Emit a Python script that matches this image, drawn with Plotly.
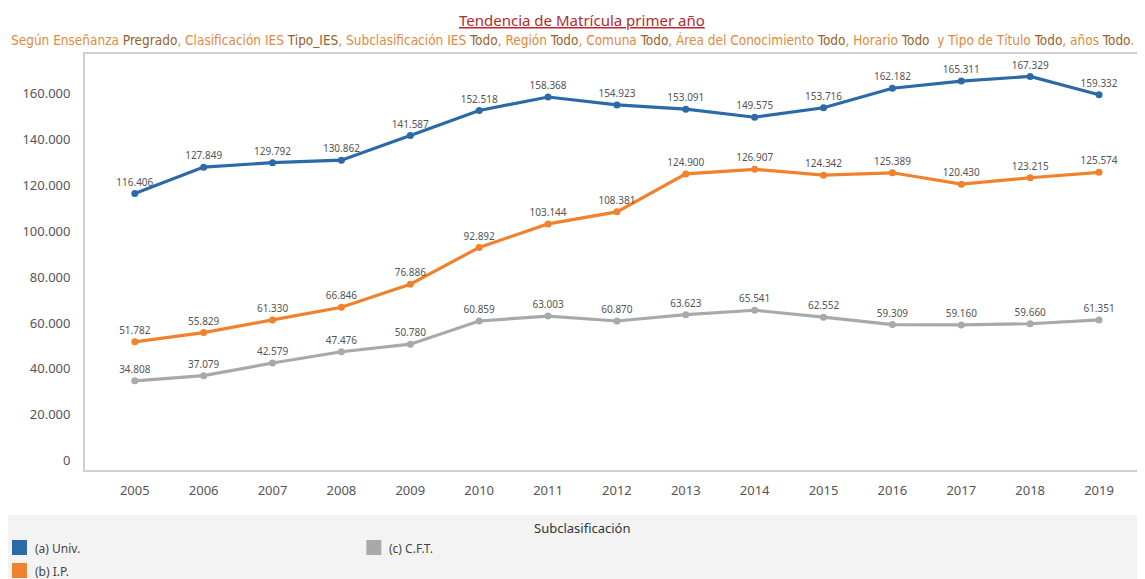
import plotly.graph_objects as go

years = [2005, 2006, 2007, 2008, 2009, 2010, 2011, 2012, 2013, 2014, 2015, 2016, 2017, 2018, 2019]
univ = [116406, 127849, 129792, 130862, 141587, 152518, 158368, 154923, 153091, 149575, 153716, 162182, 165311, 167329, 159332]
ip = [51782, 55829, 61330, 66846, 76886, 92892, 103144, 108381, 124900, 126907, 124342, 125389, 120430, 123215, 125574]
cft = [34808, 37079, 42579, 47476, 50780, 60859, 63003, 60870, 63623, 65541, 62552, 59309, 59160, 59660, 61351]
series_names = ["(a) Univ.", "(b) I.P.", "(c) C.F.T."]
series_colors = ["#2b6aa6", "#f0822d", "#a9a9a9"]
y_ticks = [0, 20000, 40000, 60000, 80000, 100000, 120000, 140000, 160000]

# page has an 8px body margin; figure sized to fill the rest of the window
OFF = 8
W, H = 1145 - OFF, 579 - OFF
FONT = "Noto Sans"

fig = go.Figure()
for name, vals, col in zip(series_names, [univ, ip, cft], series_colors):
    fig.add_trace(go.Scatter(
        x=years, y=vals, name=name, mode="lines+markers+text",
        line=dict(color=col, width=3.2),
        marker=dict(color=col, size=7),
        texttemplate="%{y:,}", textposition="top center",
        textfont=dict(size=10, color="#555555", family=FONT),
        showlegend=False, cliponaxis=False,
    ))

def px_x(p):
    return (p - OFF) / W

def px_y(p):
    return 1 - (p - OFF) / H

fig.update_layout(
    width=W, height=H,
    margin=dict(l=0, r=0, t=0, b=0),
    paper_bgcolor="white", plot_bgcolor="white",
    separators=",.",
    font=dict(family=FONT, color="#555555"),
    xaxis=dict(
        domain=[px_x(85), 1.0], range=[2004.275, 2019.638],
        tickvals=years, ticktext=[str(y) for y in years],
        tickfont=dict(size=13, color="#555555"),
        showgrid=False, zeroline=False, showline=True, linecolor="#cfcfcf", linewidth=1.5,
        mirror=True, ticks="", ticklabelstandoff=8,
    ),
    yaxis=dict(
        domain=[px_y(470), px_y(54)], range=[-4000, 177100],
        tickvals=y_ticks, tickformat=",",
        tickfont=dict(size=13, color="#555555"),
        showgrid=False, zeroline=False, showline=True, linecolor="#cfcfcf", linewidth=1.5,
        mirror=True, ticks="", ticklabelstandoff=10,
    ),
)

shapes = [dict(type="rect", xref="paper", yref="paper", x0=0, x1=1.0, y0=0, y1=px_y(515),
               fillcolor="#f3f3f3", line=dict(width=0), layer="below")]
annotations = [
    dict(text="<u>Tendencia de Matrícula primer año</u>", x=px_x(583), y=px_y(20), xref="paper", yref="paper",
         showarrow=False, font=dict(size=15, color="#b8282e", family=FONT), xanchor="center", yanchor="middle"),
]
o = "#e08a3c"
b = "#94622c"
sub = (f"<span style='color:{o}'>Según Enseñanza </span><span style='color:{b}'>Pregrado</span>"
       f"<span style='color:{o}'>, Clasificación IES </span><span style='color:{b}'>Tipo_IES</span>"
       f"<span style='color:{o}'>, Subclasificación IES </span><span style='color:{b}'>Todo</span>"
       f"<span style='color:{o}'>, Región </span><span style='color:{b}'>Todo</span>"
       f"<span style='color:{o}'>, Comuna </span><span style='color:{b}'>Todo</span>"
       f"<span style='color:{o}'>, Área del Conocimiento </span><span style='color:{b}'>Todo</span>"
       f"<span style='color:{o}'>, Horario </span><span style='color:{b}'>Todo</span>"
       f"<span style='color:{o}'>  y Tipo de Título </span><span style='color:{b}'>Todo</span>"
       f"<span style='color:{o}'>, años </span><span style='color:{b}'>Todo</span><span style='color:{o}'>.</span>")
annotations.append(dict(text=sub, x=px_x(573), y=px_y(40), xref="paper", yref="paper", showarrow=False,
                        font=dict(size=13.5, family="DejaVu Sans Condensed"), xanchor="center", yanchor="middle"))
annotations.append(dict(text="Subclasificación", x=px_x(584), y=px_y(528), xref="paper", yref="paper",
                        showarrow=False, font=dict(size=13, color="#333333", family=FONT),
                        xanchor="center", yanchor="middle"))

legend_pos = [(12, 540), (12, 563), (367, 540)]
for (lx, ly), name, col in zip(legend_pos, series_names, series_colors):
    shapes.append(dict(type="rect", xref="paper", yref="paper", x0=px_x(lx), x1=px_x(lx + 15),
                       y0=px_y(ly + 15), y1=px_y(ly), fillcolor=col, line=dict(width=0)))
    annotations.append(dict(text=name, x=px_x(lx + 21), y=px_y(ly + 8), xref="paper", yref="paper",
                            showarrow=False, font=dict(size=12, color="#444444", family=FONT),
                            xanchor="left", yanchor="middle"))

fig.update_layout(shapes=shapes, annotations=annotations)
fig.write_html("out.html")
